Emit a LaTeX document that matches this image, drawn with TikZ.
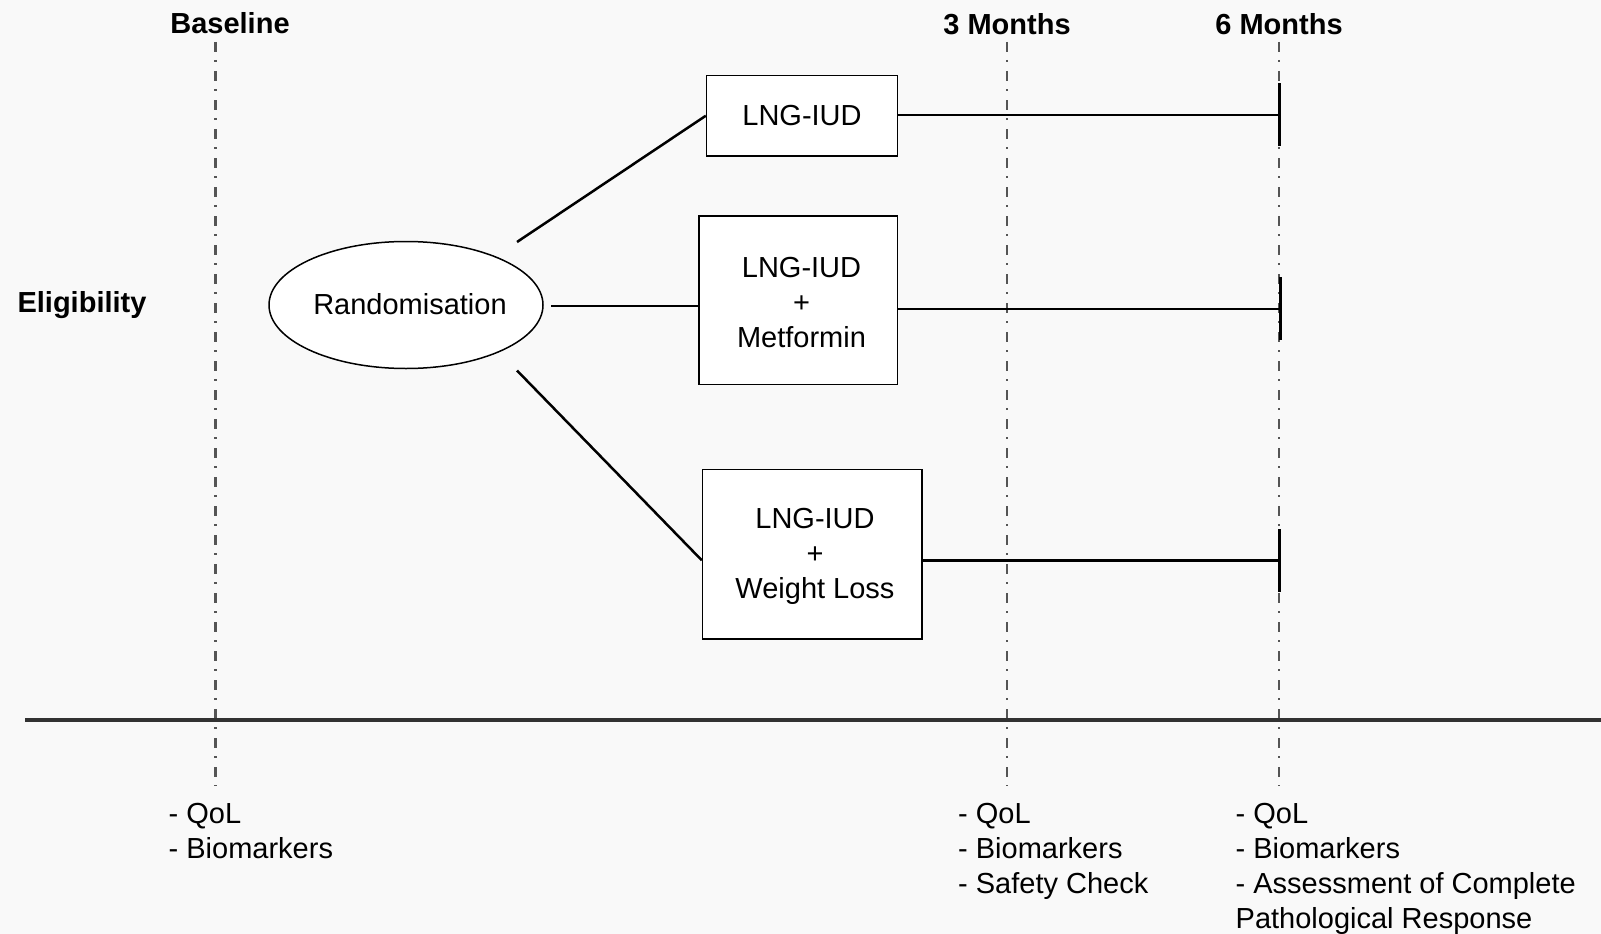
\documentclass[tikz,border=0pt]{standalone}
\usepackage{fontspec}
\setmainfont{Liberation Sans}
\usetikzlibrary{shapes.geometric}
\definecolor{bgcol}{RGB}{249,249,249}
\definecolor{dashcol}{RGB}{85,85,85}
\definecolor{axiscol}{RGB}{50,50,50}
\begin{document}
\begin{tikzpicture}[x=1pt,y=-1pt,
  every node/.style={font=\fontsize{29}{35}\selectfont},
  lbl/.style={font=\fontsize{29}{35}\selectfont\bfseries},
  armbox/.style={draw=black,line width=1.5pt,fill=white,inner sep=0pt},
  armtext/.style={align=center,inner sep=0pt},
  conn/.style={line width=2.5pt,black},
  tline/.style={dashcol,line width=2.4pt,dash pattern=on 10pt off 8pt on 2pt off 9pt},
  endbar/.style={line width=3pt,black},
  notes/.style={anchor=north west,align=left,inner sep=0pt}]
\fill[bgcol] (0,0) rectangle (1601,934);
\useasboundingbox (0,0) rectangle (1601,934);

% time lines
\coordinate (bt) at (215.5,42); \coordinate (bb) at (215.5,786);
\coordinate (tt) at (1007,42); \coordinate (tb) at (1007,786);
\coordinate (st) at (1279,42); \coordinate (sb) at (1279,786);
\draw[tline] (bt) -- (bb);
\draw[tline] (tt) -- (tb);
\draw[tline] (st) -- (sb);

% axis
\coordinate (axl) at (25,720); \coordinate (axr) at (1601,720);
\draw[axiscol,line width=3.5pt] (axl) -- (axr);

% labels
\node[lbl] (base) at (230,23) {Baseline};
\node[lbl] (three) at (1007,24) {3 Months};
\node[lbl] (six) at (1279,24) {6 Months};
\node[lbl] (elig) at (82,305) {Eligibility};

% ellipse
\node[ellipse,draw=black,line width=1.5pt,fill=white,minimum width=274pt,minimum height=127pt,inner sep=0pt] (rand) at (406,305) {};
\node (randt) at (410,304) {Randomisation};

% boxes
\node[armbox,minimum width=191pt,minimum height=80.5pt] (b1) at (802,115.75) {};
\node[armtext] (t1) at (802,115.5) {LNG-IUD};
\node[armbox,minimum width=198.5pt,minimum height=168.5pt] (b2) at (798.25,300) {};
\node[armtext] (t2) at (801.5,303) {LNG-IUD\\+\\Metformin};
\node[armbox,minimum width=219.5pt,minimum height=169.5pt] (b3) at (812.25,554.25) {};
\node[armtext] (t3) at (815,556) {LNG-IUD\\+\\Weight Loss};

% connectors from randomisation
\coordinate (r1) at (517,242);
\coordinate (r2) at (551,306);
\coordinate (r3) at (517,370.5);
\draw[conn] (r1) -- (b1.west);
\draw[conn] (r2) -- (b2.west |- r2);
\draw[conn] (r3) -- ([yshift=-6pt]b3.west);

% arm lines to 6 months
\coordinate (e1) at (1279,115);
\coordinate (e2) at (1280,309);
\coordinate (e3) at (1279,560.5);
\draw[conn] (b1.east |- e1) -- (e1);
\draw[conn] (b2.east |- e2) -- (e2);
\draw[conn] (b3.east |- e3) -- (e3);
\draw[endbar] ([yshift=-31pt]e1) -- ([yshift=32pt]e1);
\draw[endbar] ([yshift=-31pt]e2) -- ([yshift=32pt]e2);
\draw[endbar] ([yshift=-31pt]e3) -- ([yshift=32pt]e3);

% notes
\node[notes] (n1) at (168.5,803) {- QoL\\- Biomarkers};
\node[notes] (n2) at (958,803) {- QoL\\- Biomarkers\\- Safety Check};
\node[notes] (n3) at (1235.5,803) {- QoL\\- Biomarkers\\- Assessment of Complete\\Pathological Response};
\end{tikzpicture}
\end{document}
